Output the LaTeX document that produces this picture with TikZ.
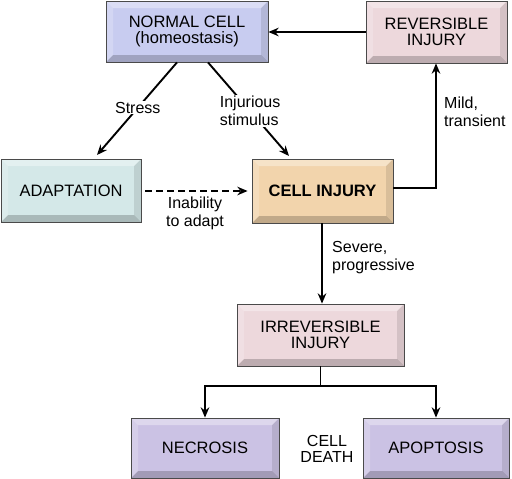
\documentclass[tikz,border=0pt]{standalone}
\usepackage{fontspec}
\setmainfont{Liberation Sans}
\usetikzlibrary{arrows.meta,positioning,calc}
\definecolor{NormalBlue}{HTML}{C8CCF0}
\definecolor{RevPink}{HTML}{EDD8DC}
\definecolor{InjTan}{HTML}{F2D4AC}
\definecolor{AdaptTeal}{HTML}{D4E8E8}
\definecolor{DeathLilac}{HTML}{CBC2E4}
\definecolor{Edge}{HTML}{4A4A4A}

\begin{document}
\begin{tikzpicture}[x=1pt, y=-1pt,
    box/.style={rectangle, draw=Edge, line width=0.8pt, fill=#1, align=center,
        font=\fontsize{16.5}{16.5}\selectfont, inner sep=0pt,
        path picture={
            \coordinate (bsw) at (path picture bounding box.south west);
            \coordinate (bse) at (path picture bounding box.south east);
            \coordinate (bnw) at (path picture bounding box.north west);
            \coordinate (bne) at (path picture bounding box.north east);
            \fill[black, opacity=0.2] (bsw) -- (bse) -- ([shift={(-7pt,7pt)}]bse) -- ([shift={(7pt,7pt)}]bsw) -- cycle;
            \fill[black, opacity=0.1] (bse) -- (bne) -- ([shift={(-7pt,-7pt)}]bne) -- ([shift={(-7pt,7pt)}]bse) -- cycle;
            \fill[white, opacity=0.35] (bnw) -- (bne) -- ([shift={(-7pt,-7pt)}]bne) -- ([shift={(7pt,-7pt)}]bnw) -- cycle;
            \fill[white, opacity=0.2] (bsw) -- (bnw) -- ([shift={(7pt,-7pt)}]bnw) -- ([shift={(7pt,7pt)}]bsw) -- cycle;
        }},
    lbl/.style={font=\fontsize{16}{18}\selectfont, align=left, inner sep=1pt},
    arrow/.style={-{Stealth[length=3.6mm, width=3mm]}, line width=1.9pt, black},
]
    \useasboundingbox (0,0) rectangle (512,479);

    \node[box=NormalBlue, minimum width=162pt, minimum height=61pt] (normal) at (187,31.5) {NORMAL CELL\\(homeostasis)};
    \node[box=RevPink, minimum width=141pt, minimum height=62pt] (reversible) at (436.5,32) {REVERSIBLE\\INJURY};
    \node[box=AdaptTeal, minimum width=140pt, minimum height=63pt] (adapt) at (71,190.5) {ADAPTATION};
    \node[box=InjTan, minimum width=141pt, minimum height=64pt, font=\fontsize{16.5}{16.5}\selectfont\bfseries] (injury) at (322.5,191) {CELL INJURY};
    \node[box=RevPink, minimum width=167pt, minimum height=62pt] (irreversible) at (320.5,335) {IRREVERSIBLE\\INJURY};
    \node[box=DeathLilac, minimum width=148pt, minimum height=60pt] (necrosis) at (205,448) {NECROSIS};
    \node[box=DeathLilac, minimum width=146pt, minimum height=60pt] (apoptosis) at (436,448) {APOPTOSIS};
    \node[lbl, align=center, font=\fontsize{16}{16}\selectfont] (death) at (327,449) {CELL\\DEATH};

    \coordinate (split) at (320.5,386);
    \coordinate (mildturn) at (436,188);

    \draw[arrow] (reversible.west |- 0,32) -- (normal.east |- 0,32);
    \draw[arrow] ([xshift=-10pt]normal.south) -- node[lbl, fill=white, pos=.49] {Stress} (97,155);
    \draw[arrow] ([xshift=21pt]normal.south) -- node[lbl, fill=white, pos=.52] {Injurious\\stimulus} (289,156);
    \draw[arrow, dashed, dash pattern=on 7pt off 4pt] ([xshift=4pt]adapt.east |- 0,191) -- ([xshift=-4pt]injury.west |- 0,191);
    \node[lbl, align=center] (inability) at (195,213) {Inability\\to adapt};
    \draw[arrow] (injury.east |- mildturn) -- (mildturn) -- (mildturn |- reversible.south);
    \node[lbl, anchor=west] (mild) at (443,112) {Mild,\\transient};
    \draw[arrow] (injury.south -| 322,0) -- (irreversible.north -| 322,0);
    \node[lbl, anchor=west] (severe) at (331,258) {Severe,\\progressive};
    \draw[line width=1.9pt] (irreversible.south -| split) -- (split);
    \draw[arrow] (split) -| (necrosis.north);
    \draw[arrow] (split) -| (apoptosis.north);
\end{tikzpicture}
\end{document}
